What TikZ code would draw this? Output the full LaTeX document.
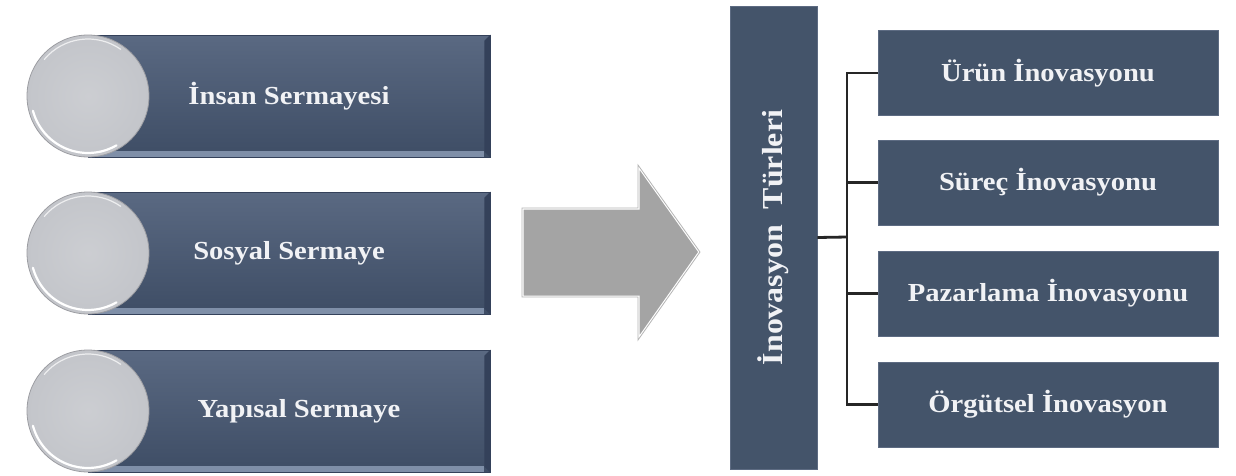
\documentclass[tikz,border=0pt]{standalone}
\usepackage{fontspec}
\setmainfont[FakeStretch=1.1]{Liberation Serif}
\usepackage{tikz}
\usetikzlibrary{positioning,calc}
\definecolor{invBox}{HTML}{44546A}
\definecolor{invBoxEdge}{HTML}{5D6B82}
\definecolor{invCapTop}{HTML}{5A6982}
\definecolor{invCapBot}{HTML}{3E4D65}
\definecolor{invCapLight}{HTML}{7F8FA8}
\definecolor{invCapDark}{HTML}{34415A}
\definecolor{invBall}{HTML}{C3C5CA}
\definecolor{invBallRim}{HTML}{9C9DA2}
\definecolor{invArrow}{HTML}{A4A4A4}
\definecolor{invArrowEdge}{HTML}{B5B5B5}
\definecolor{invLine}{HTML}{262626}
\definecolor{invText}{HTML}{F1F2F5}
\tikzset{
  invcap/.style={rectangle,inner sep=0pt,minimum width=402,minimum height=122,
                 top color=invCapTop,bottom color=invCapBot,draw=invCapDark,line width=0.6pt,
                 text=invText,font=\fontsize{26}{28}\selectfont\bfseries},
  invball/.style={circle,inner sep=0pt,minimum size=122,inner color=invBall!85!white,
                  outer color=invBall,draw=invBallRim,line width=0.8pt},
  invbar/.style={rectangle,inner sep=0pt,fill=invBox,draw=invBoxEdge,line width=0.6pt,
                 text=invText,font=\fontsize{29}{31}\selectfont\bfseries},
  invtype/.style={invbar,minimum width=340,minimum height=85,font=\fontsize{26}{28}\selectfont\bfseries},
  invlink/.style={draw=invLine,line width=2.8pt},
  invshine/.style={draw=white,line width=2.2pt,line cap=round},
}
\begin{document}
\begin{tikzpicture}[x=1pt,y=-1pt]
  \useasboundingbox (0,0) rectangle (1236,475);

  % capital boxes on the left
  \node[invcap] (S1) at (289,96) {İnsan Sermayesi};
  \node[invcap] (S2) at (289,253) {Sosyal Sermaye};
  \node[invcap] (S3) at (289,411) {\hspace{20pt}Yapısal Sermaye};
  \foreach \s in {S1,S2,S3}{
    \fill[invCapLight] (\s.south west) rectangle ([xshift=-6pt,yshift=6pt]\s.south east);
    \fill[invCapDark] (\s.north east) -- (\s.south east) -- ([xshift=-6pt,yshift=6pt]\s.south east)
          -- ([xshift=-6pt,yshift=-6pt]\s.north east) -- cycle;
  }

  \node[invball] (B1) at (88,96) {};
  \node[invball] (B2) at (88,253) {};
  \node[invball] (B3) at (88,411) {};
  \foreach \b in {B1,B2,B3}{
    \draw[invshine] ([shift={(195:57pt)}]\b.center) arc[start angle=195,end angle=300,radius=57pt];
    \draw[invshine,line width=1.2pt,opacity=0.7] ([shift={(55:57pt)}]\b.center) arc[start angle=55,end angle=140,radius=57pt];
  }

  % block arrow
  \draw[fill=invArrow,draw=white,line width=3pt,line join=miter]
    (522,208) -- (638,208) -- (638,165) -- (700,252) -- (638,340) -- (638,297) -- (522,297) -- cycle;
  \draw[invArrowEdge,line width=0.8pt]
    (522,208) -- (638,208) -- (638,165) -- (700,252) -- (638,340) -- (638,297) -- (522,297) -- cycle;

  % types of innovation
  \node[invbar,rotate=90,minimum width=463,minimum height=87] (T) at (773.5,237.5) {İnovasyon\ \ Türleri};
  \node[invtype] (R1) at (1048,73) {Ürün İnovasyonu};
  \node[invtype] (R2) at (1048,182.5) {Süreç İnovasyonu};
  \node[invtype] (R3) at (1048,293.5) {Pazarlama İnovasyonu};
  \node[invtype] (R4) at (1048,404.5) {Örgütsel İnovasyon};

  \coordinate (J) at (847,237);
  \draw[invlink] (T.south) -- (J);
  \draw[invlink,line cap=rect] (J |- R1.west) -- (J |- R4.west);
  \foreach \r in {R1,R2,R3,R4}
    \draw[invlink] (J |- \r.west) -- (\r.west);
\end{tikzpicture}
\end{document}
